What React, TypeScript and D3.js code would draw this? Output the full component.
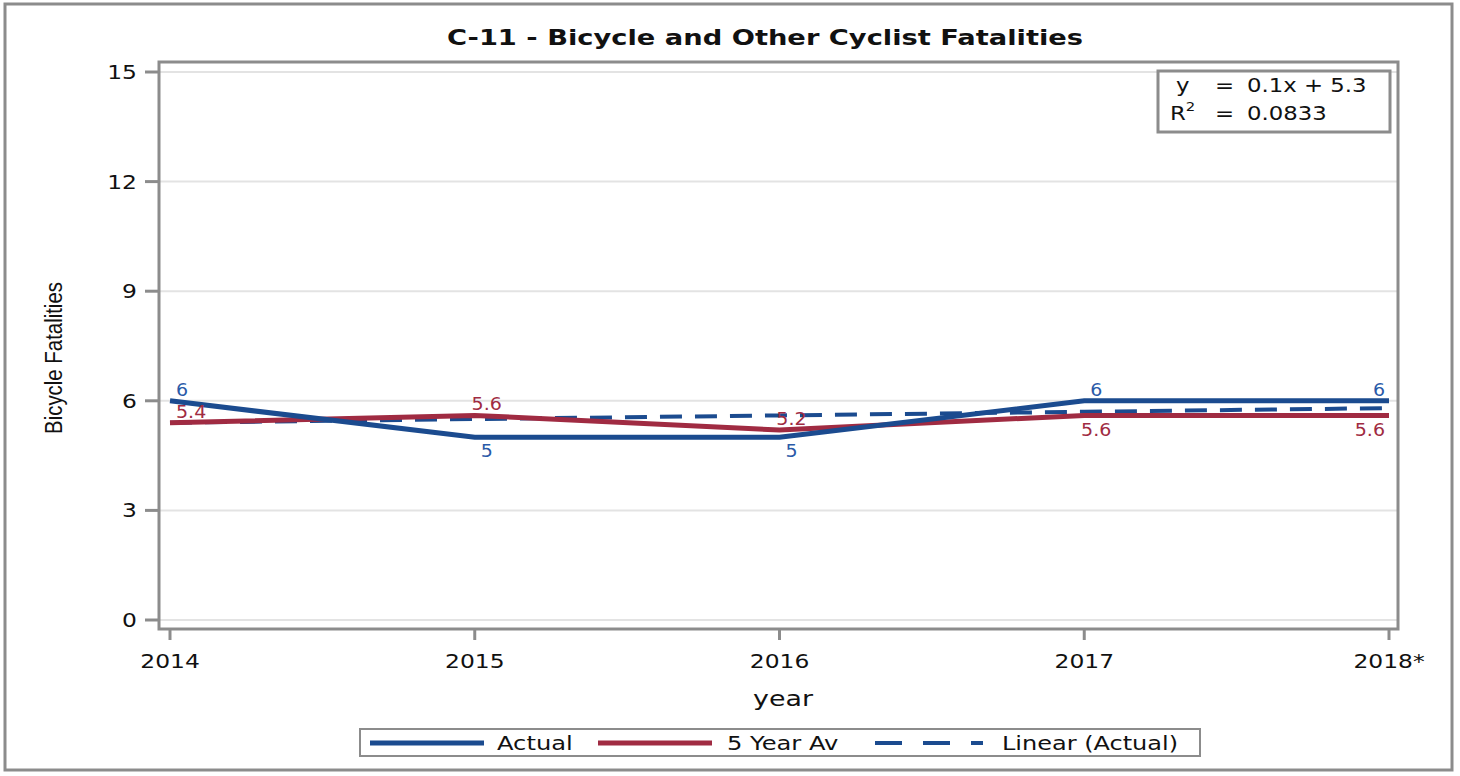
import React from "react";
import * as d3 from "d3";

const years = ["2014", "2015", "2016", "2017", "2018*"];
const actual = [6, 5, 5, 6, 6];
const fiveYearAvg = [5.4, 5.6, 5.2, 5.6, 5.6];
const linearFit = [5.4, 5.5, 5.6, 5.7, 5.8];
const yTicks = [0, 3, 6, 9, 12, 15];
// label placement: 1 = above, -1 = below
const actualLabelPos = [1, -1, -1, 1, 1];
const avgLabelPos = [1, 1, 1, -1, -1];

const BLUE = "#1b4b8f";
const RED = "#a02b42";
const FONT = "'DejaVu Sans', Verdana, sans-serif";

type TProps = {
  x: number; y: number; sx?: number; size: number; anchor?: "start" | "middle" | "end";
  fill?: string; weight?: string; children: React.ReactNode;
};
function T({ x, y, sx = 1.17, size, anchor = "start", fill = "#111", weight, children }: TProps) {
  return (
    <text transform={`translate(${x},${y}) scale(${sx},1)`} textAnchor={anchor} fontSize={size}
      fill={fill} fontWeight={weight}>{children}</text>
  );
}

export default function App() {
  const W = 1460, H = 776;
  const left = 159, right = 1398, top = 62, bottom = 629;
  const x = d3.scalePoint<string>().domain(years).range([170, 1389]);
  const y = d3.scaleLinear().domain([0, 15]).range([620, 72]);
  const line = d3.line<number>().x((_, i) => x(years[i])!).y((d) => y(d));

  const anchorFor = (i: number) => (i === 0 ? "start" : i === years.length - 1 ? "end" : "middle");
  const dxFor = (i: number) => (i === 0 ? 6 : i === years.length - 1 ? -4 : 12);

  return (
    <svg width={W} height={H} style={{ position: "absolute", left: 0, top: 0 }} fontFamily={FONT}>
      <rect x={0} y={0} width={W} height={H} fill="#fff" />
      <rect x={5} y={4} width={1447} height={766} fill="none" stroke="#8c8c8c" strokeWidth={3} />
      <T x={765} y={45} sx={1.3} size={21} anchor="middle" weight="bold">
        C-11 - Bicycle and Other Cyclist Fatalities
      </T>
      {yTicks.map((t) => (
        <g key={t}>
          <line x1={left} x2={right} y1={y(t)} y2={y(t)} stroke="#e3e3e3" strokeWidth={2} />
          <line x1={left - 14} x2={left} y1={y(t)} y2={y(t)} stroke="#8c8c8c" strokeWidth={3} />
          <T x={left - 22} y={y(t) + 7} size={20} anchor="end">{t}</T>
        </g>
      ))}
      <rect x={left} y={top} width={right - left} height={bottom - top} fill="none" stroke="#8c8c8c" strokeWidth={3} />
      {years.map((yr) => (
        <g key={yr}>
          <line x1={x(yr)!} x2={x(yr)!} y1={bottom} y2={bottom + 11} stroke="#8c8c8c" strokeWidth={3} />
          <T x={x(yr)!} y={bottom + 39} size={20} anchor="middle">{yr}</T>
        </g>
      ))}
      <T x={783} y={706} size={22} sx={1.22} anchor="middle">year</T>
      <text transform="translate(62,358) rotate(-90) scale(0.85,1)" textAnchor="middle" fontSize={24} fill="#111"
        fontFamily="'Liberation Sans', Arial, sans-serif">
        Bicycle Fatalities
      </text>

      <path d={line(linearFit)!} fill="none" stroke={BLUE} strokeWidth={4} strokeDasharray="22 13" />
      <path d={line(fiveYearAvg)!} fill="none" stroke={RED} strokeWidth={5} />
      <path d={line(actual)!} fill="none" stroke={BLUE} strokeWidth={5} />

      {actual.map((v, i) => (
        <T key={"a" + i} x={x(years[i])! + dxFor(i)} y={actualLabelPos[i] > 0 ? y(v) - 5 : y(v) + 20}
          anchor={anchorFor(i)} size={17} sx={1.12} fill="#2a5aa8">{v}</T>
      ))}
      {fiveYearAvg.map((v, i) => (
        <T key={"r" + i} x={x(years[i])! + dxFor(i)} y={avgLabelPos[i] > 0 ? y(v) - 5 : y(v) + 21}
          anchor={anchorFor(i)} size={17} sx={1.12} fill={RED}>{v}</T>
      ))}

      <rect x={1158} y={71} width={232} height={61} fill="#fff" stroke="#8c8c8c" strokeWidth={3} />
      <T x={1176} y={92} size={20} sx={1.14}>y</T>
      <T x={1215} y={92} size={20} sx={1.14}>=</T>
      <T x={1247} y={92} size={20} sx={1.14}>0.1x + 5.3</T>
      <T x={1170} y={120} size={20} sx={1.14}>R<tspan dy={-9} fontSize={13}>2</tspan></T>
      <T x={1215} y={120} size={20} sx={1.14}>=</T>
      <T x={1247} y={120} size={20} sx={1.14}>0.0833</T>

      <rect x={360} y={729} width={840} height={27} fill="#fff" stroke="#8c8c8c" strokeWidth={2} />
      <line x1={370} x2={484} y1={743} y2={743} stroke={BLUE} strokeWidth={5} />
      <T x={497} y={750} size={20} sx={1.21}>Actual</T>
      <line x1={598} x2={712} y1={743} y2={743} stroke={RED} strokeWidth={5} />
      <T x={727} y={750} size={20} sx={1.21}>5 Year Av</T>
      <line x1={875} x2={983} y1={743} y2={743} stroke={BLUE} strokeWidth={4} strokeDasharray="27 21" />
      <T x={1002} y={750} size={20} sx={1.2}>Linear (Actual)</T>
    </svg>
  );
}
